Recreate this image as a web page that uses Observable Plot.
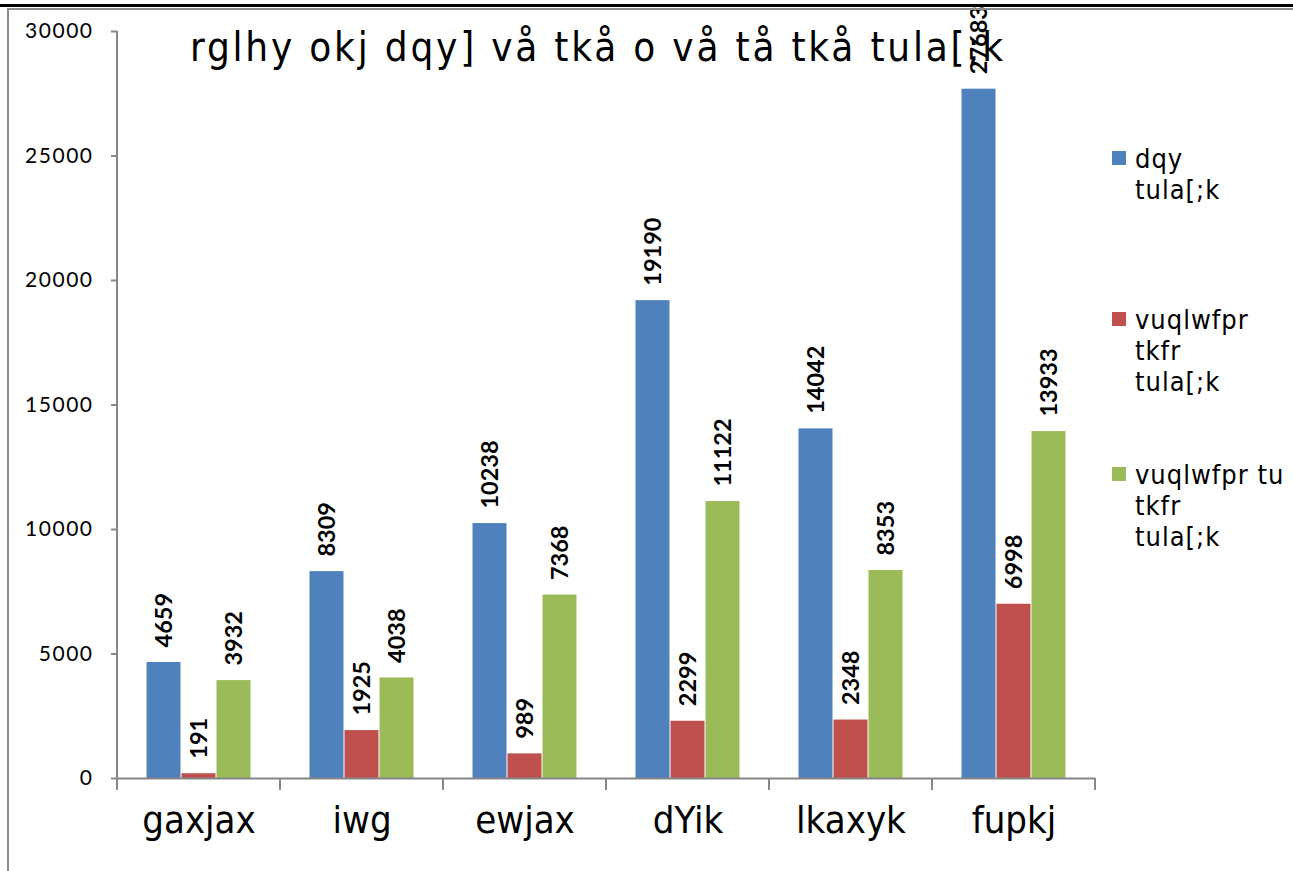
<!DOCTYPE html>
<html>
<head>
<meta charset="utf-8">
<script src="https://cdn.jsdelivr.net/npm/d3@7"></script>
<script src="https://cdn.jsdelivr.net/npm/@observablehq/plot@0.6"></script>
<style>
  html, body { margin: 0; padding: 0; background: #fff; }
  #wrap { position: relative; width: 1293px; height: 871px; overflow: hidden; }
  #chart svg { display: block; }
  .hdr { position: absolute; font-family: "Liberation Sans Narrow", "DejaVu Sans Condensed", "Liberation Sans", sans-serif; color: #000; white-space: nowrap; }
  #title { left: 190px; top: 24px; font-size: 40px; letter-spacing: 2.8px; }
  .leg { position: absolute; left: 1112px; font-family: "Liberation Sans Narrow", "DejaVu Sans Condensed", sans-serif; font-size: 27px; line-height: 31px; color: #000; letter-spacing: 1px; }
  .leg .sw { position: absolute; left: 0; top: 8px; width: 14px; height: 14px; }
  .leg .tx { position: absolute; left: 23px; top: 0; white-space: nowrap; }
  #topline1 { position: absolute; left: 0; top: 4px; width: 1293px; height: 3px; background: #000; }
  #topline2 { position: absolute; left: 7px; top: 8px; width: 1286px; height: 2px; background: #8c8c8c; }
  #leftline { position: absolute; left: 7px; top: 8px; width: 2px; height: 863px; background: #8c8c8c; }
</style>
</head>
<body>
<div id="wrap">
  <div id="chart"></div>
  <div id="topline1"></div>
  <div id="topline2"></div>
  <div id="leftline"></div>
  <div id="title" class="hdr"></div>
  <div id="legend"></div>
</div>
<script>
const titleText = "rglhy okj dqy] vå tkå o vå tå tkå tula[;k";
const categories = ["gaxjax", "iwg", "ewjax", "dYik", "lkaxyk", "fupkj"];
const seriesNames = ["dqy tula[;k", "vuqlwfpr tkfr tula[;k", "vuqlwfpr tu tkfr tula[;k"];
const legendLines = [["dqy", "tula[;k"], ["vuqlwfpr", "tkfr", "tula[;k"], ["vuqlwfpr tu", "tkfr", "tula[;k"]];
const seriesColors = ["#4F81BD", "#C0504D", "#9BBB59"];
const totalPop = [4659, 8309, 10238, 19190, 14042, 27683];
const scPop = [191, 1925, 989, 2299, 2348, 6998];
const stPop = [3932, 4038, 7368, 11122, 8353, 13933];
const yTicks = [0, 5000, 10000, 15000, 20000, 25000, 30000];

const seriesValues = [totalPop, scPop, stPop];
const data = [];
categories.forEach((c, i) => {
  seriesNames.forEach((s, j) => data.push({cat: c, series: s, value: seriesValues[j][i]}));
});

const W = 1293, H = 871;
const plot = Plot.plot({
  width: W,
  height: H,
  marginLeft: 116,
  marginRight: 198,
  marginTop: 31,
  marginBottom: 93,
  style: {fontFamily: "Lato, 'Open Sans', sans-serif", fontSize: "19px", background: "white", color: "#000"},
  fx: {domain: categories, padding: 0, axis: null},
  x: {domain: seriesNames, paddingInner: 0, paddingOuter: 0.764, axis: null},
  y: {domain: [0, 30000], ticks: yTicks, tickSize: 6, tickPadding: 18, label: null, tickFormat: () => ""},
  color: {domain: seriesNames, range: seriesColors},
  marks: [
    Plot.barY(data, {fx: "cat", x: "series", y: "value", fill: "series", insetLeft: 0.5, insetRight: 0.5}),
    Plot.ruleY([0], {stroke: "#868686", strokeWidth: 2}),
    Plot.text(yTicks, {fx: () => categories[0], y: d => d, frameAnchor: "left", textAnchor: "end", dx: -24, text: d => String(d), fontSize: 21, fill: "#000"}),
    Plot.text(data, {fx: "cat", x: "series", y: "value", text: d => String(d.value), rotate: -90, textAnchor: "start", dy: -15, fontWeight: "bold", fontSize: 23.5, fill: "#000"}),
    Plot.text(categories, {fx: d => d, frameAnchor: "bottom", dy: 54, text: d => d, fontSize: 38, fontFamily: "'Liberation Sans Narrow', 'DejaVu Sans Condensed', sans-serif", fill: "#000"})
  ]
});
document.getElementById("chart").appendChild(plot);

const svg = d3.select(plot);
svg.selectAll('[aria-label^="y-axis"] line, [aria-label^="y-axis"] path').attr("stroke", "#868686").attr("stroke-width", 2);
const tickStrings = yTicks.map(String);
svg.selectAll("text").filter(function() { return tickStrings.includes(this.textContent.trim()); })
  .style("letter-spacing", "1.5px");

const fx = plot.scale("fx");
const y = plot.scale("y");
const y0 = y.apply(0), yTop = y.apply(30000);
const x0 = fx.apply(categories[0]);
const g = svg.append("g").attr("stroke", "#868686").attr("stroke-width", 2);
g.append("line").attr("x1", x0).attr("x2", x0).attr("y1", yTop).attr("y2", y0 + 12);
categories.forEach(c => {
  const xe = fx.apply(c) + fx.bandwidth;
  g.append("line").attr("x1", xe).attr("x2", xe).attr("y1", y0).attr("y2", y0 + 12);
});

document.getElementById("title").textContent = titleText;
const legend = document.getElementById("legend");
const legTops = [143, 304, 459];
legendLines.forEach((lines, i) => {
  const d = document.createElement("div");
  d.className = "leg";
  d.style.top = legTops[i] + "px";
  d.innerHTML = `<div class="sw" style="background:${seriesColors[i]}"></div><div class="tx">${lines.join("<br>")}</div>`;
  legend.appendChild(d);
});
</script>
</body>
</html>
